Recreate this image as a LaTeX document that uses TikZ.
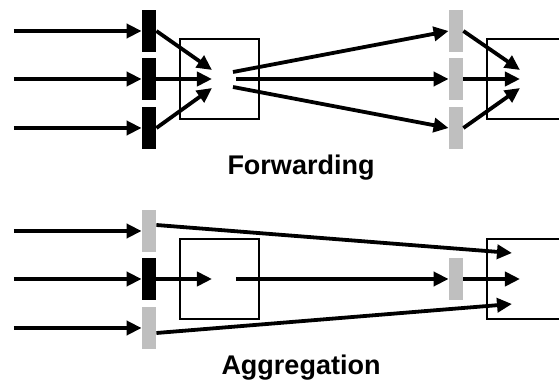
\documentclass[tikz,border=0pt]{standalone}
\usepackage{fontspec}
\setmainfont{Liberation Sans}
\usetikzlibrary{arrows.meta}

\begin{document}
\begin{tikzpicture}[x=0.5pt,y=-0.5pt,
    flow/.style={line width=1.9pt,-{Triangle[length=7.5pt,width=7pt]}},
    bar/.style={draw=none,minimum width=7pt,minimum height=21pt,inner sep=0pt},
    blackbar/.style={bar,fill=black},
    greybar/.style={bar,fill=black!25},
    router/.style={draw,line width=1pt,minimum width=39.5pt,minimum height=40pt,inner sep=0pt},
    caption/.style={anchor=base,font=\bfseries\fontsize{13.5}{16}\selectfont}]
  \useasboundingbox (0,0) rectangle (559,385);
  \clip (0,0) rectangle (559,385);
  % forwarding
  \node[router] (fleft) at (219.5,79) {};
  \node[router] (fright) at (526.5,79) {};
  \foreach \i/\y in {1/31,2/79,3/128} {
    \node[blackbar] (fa\i) at (149,\y) {};
    \node[greybar] (fb\i) at (456,\y) {};
    \coordinate (fin\i) at (14,\y);
    \draw[flow] (fin\i) -- (fa\i.west);
  }
  \coordinate (ftip1) at (212,70);
  \coordinate (ftip2) at (212,79);
  \coordinate (ftip3) at (212,88);
  \coordinate (fout1) at (233,72);
  \coordinate (fout2) at (236,79);
  \coordinate (fout3) at (233,87);
  \coordinate (rtip1) at (520,70);
  \coordinate (rtip2) at (520,79);
  \coordinate (rtip3) at (520,88);
  \foreach \i in {1,2,3} {
    \draw[flow] (fa\i.east) -- (ftip\i);
    \draw[flow] (fout\i) -- (fb\i.west);
    \draw[flow] (fb\i.east) -- (rtip\i);
  }
  \node[caption] (fwd) at (301,175) {Forwarding};
  % aggregation
  \node[router] (aleft) at (219.5,279) {};
  \node[router] (aright) at (526.5,279) {};
  \node[greybar] (ga1) at (149,231) {};
  \node[blackbar] (ga2) at (149,279) {};
  \node[greybar] (ga3) at (149,328) {};
  \node[greybar] (gb2) at (456,279) {};
  \foreach \i/\y in {1/231,2/279,3/328} {
    \coordinate (ain\i) at (14,\y);
    \draw[flow] (ain\i) -- (ga\i.west);
  }
  \coordinate (atip) at (212,279);
  \coordinate (aout) at (236,279);
  \coordinate (atop) at (512,253);
  \coordinate (amid) at (520,279);
  \coordinate (abot) at (512,304);
  \draw[flow] (ga2.east) -- (atip);
  \draw[flow] (aout) -- (gb2.west);
  \draw[flow] (gb2.east) -- (amid);
  \draw[flow] ([yshift=3pt]ga1.east) -- (atop);
  \draw[flow] ([yshift=-2.5pt]ga3.east) -- (abot);
  \node[caption] (agg) at (301,375) {Aggregation};
\end{tikzpicture}
\end{document}
